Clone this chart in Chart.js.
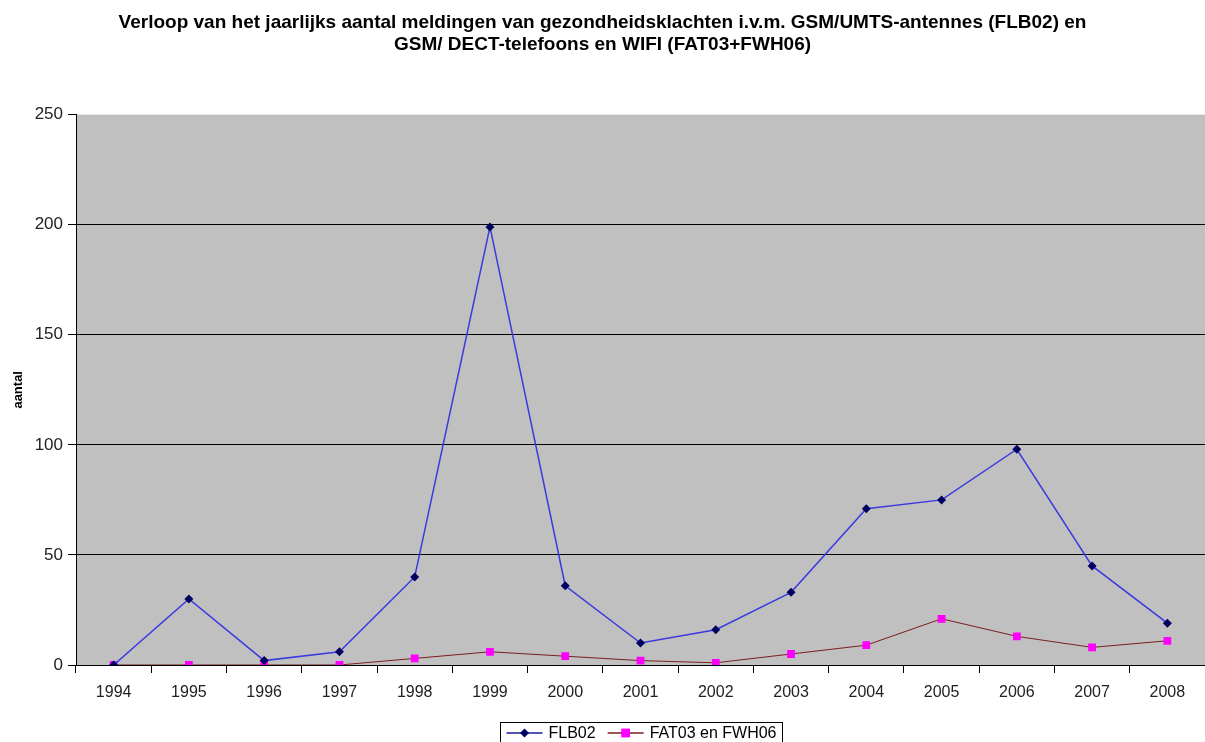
<!DOCTYPE html>
<html>
<head>
<meta charset="utf-8">
<script src="https://cdn.jsdelivr.net/npm/chart.js@4.4.0/dist/chart.umd.min.js"></script>
<style>
  html, body { margin: 0; padding: 0; background: #fff; }
  #wrap { width: 1205px; height: 742px; }
</style>
</head>
<body>
<div id="wrap"><canvas id="chart" width="1205" height="742"></canvas></div>
<script>
// jaren en aantallen
const jaren = ['1994', '1995', '1996', '1997', '1998', '1999', '2000', '2001', '2002', '2003', '2004', '2005', '2006', '2007', '2008'];
const flb02 = [0, 30, 2, 6, 40, 199, 36, 10, 16, 33, 71, 75, 98, 45, 19];
const fat03Fwh06 = [0, 0, 0, 0, 3, 6, 4, 2, 1, 5, 9, 21, 13, 8, 11];
const yTicks = [0, 50, 100, 150, 200, 250];

const titel = [
    'Verloop van het jaarlijks aantal meldingen van gezondheidsklachten i.v.m. GSM/UMTS-antennes (FLB02) en',
    'GSM/ DECT-telefoons en WIFI (FAT03+FWH06)'
];

const FONT = "'Liberation Sans', Arial, sans-serif";

// grijze achtergrond van het plotgebied
const plotBackground = {
    id: 'plotBackground',
    beforeDraw(chart) {
        const { ctx, chartArea: { left, top, right, bottom } } = chart;
        ctx.save();
        ctx.fillStyle = '#c0c0c0';
        ctx.fillRect(left, top, right - left, bottom - top);
        ctx.restore();
    }
};

// legende onderaan, in een kader zoals in Excel (gecentreerd op het plotgebied)
const excelLegend = {
    id: 'excelLegend',
    afterDraw(chart) {
        const { ctx, chartArea } = chart;
        const sets = chart.data.datasets;
        ctx.save();
        ctx.font = '16px ' + FONT;
        const lineLen = 36, gap = 6, itemGap = 12, padX = 6;
        let total = padX * 2;
        const widths = sets.map(ds => ctx.measureText(ds.label).width);
        widths.forEach((w, i) => { total += lineLen + gap + w + (i ? itemGap : 0); });
        const mid = (chartArea.left + chartArea.right) / 2;
        let x = Math.round(mid - total / 2) + 0.5;
        const top = 722.5, h = 30, cy = 733;
        ctx.fillStyle = '#fff';
        ctx.fillRect(x, top, total, h);
        ctx.strokeStyle = '#000';
        ctx.lineWidth = 1;
        ctx.strokeRect(x, top, total, h);
        x += padX;
        sets.forEach((ds, i) => {
            if (i) x += itemGap;
            ctx.strokeStyle = ds.legendLine;
            ctx.lineWidth = 1.5;
            ctx.beginPath();
            ctx.moveTo(x, cy);
            ctx.lineTo(x + lineLen, cy);
            ctx.stroke();
            const mx = x + lineLen / 2;
            ctx.fillStyle = ds.pointBackgroundColor;
            ctx.beginPath();
            if (ds.pointStyle === 'rectRot') {
                const r = ds.pointRadius;
                ctx.moveTo(mx, cy - r); ctx.lineTo(mx + r, cy); ctx.lineTo(mx, cy + r); ctx.lineTo(mx - r, cy);
                ctx.closePath();
            } else {
                const r = ds.pointRadius * 0.8;
                ctx.rect(mx - r, cy - r, r * 2, r * 2);
            }
            ctx.fill();
            x += lineLen + gap;
            ctx.fillStyle = '#000';
            ctx.textBaseline = 'middle';
            ctx.fillText(ds.label, x, cy + 1);
            x += widths[i];
        });
        ctx.restore();
    }
};

const ctx = document.getElementById('chart').getContext('2d');
new Chart(ctx, {
    type: 'line',
    data: {
        labels: jaren,
        datasets: [{
            label: 'FLB02',
            data: flb02,
            borderColor: '#3a3ae0',
            legendLine: '#1a1aa0',
            borderWidth: 1.5,
            pointStyle: 'rectRot',
            pointRadius: 4.5,
            pointBackgroundColor: '#000060',
            pointBorderColor: '#000060',
            pointBorderWidth: 0,
            tension: 0
        }, {
            label: 'FAT03 en FWH06',
            data: fat03Fwh06,
            borderColor: '#7a1e1e',
            legendLine: '#7a1e1e',
            borderWidth: 1,
            pointStyle: 'rect',
            pointRadius: 5.5,
            pointBackgroundColor: '#ff00ff',
            pointBorderColor: '#ff00ff',
            pointBorderWidth: 0,
            tension: 0
        }]
    },
    options: {
        responsive: false,
        animation: false,
        layout: { padding: 0, autoPadding: false },
        plugins: {
            legend: { display: false },
            tooltip: { enabled: false },
            title: {
                display: true,
                text: titel,
                color: '#000',
                font: { family: FONT, size: 19, weight: 'bold', lineHeight: 1.2 },
                padding: { top: 11, bottom: 58 }
            }
        },
        scales: {
            x: {
                offset: true,
                afterFit(scale) { scale.height = 77; },
                grid: {
                    offset: true,
                    drawOnChartArea: false,
                    drawTicks: true,
                    tickLength: 8,
                    tickColor: '#000'
                },
                border: { display: true, color: '#000', width: 1 },
                ticks: {
                    color: '#222',
                    padding: 10,
                    maxRotation: 0,
                    autoSkip: false,
                    font: { family: FONT, size: 16 }
                }
            },
            y: {
                min: 0,
                max: 250,
                afterFit(scale) { scale.width = 76; },
                afterBuildTicks(scale) { scale.ticks = yTicks.map(v => ({ value: v })); },
                grid: {
                    color: c => (c.tick && c.tick.value === 250) ? 'rgba(0,0,0,0)' : '#000',
                    lineWidth: 1,
                    tickLength: 8,
                    tickColor: '#000'
                },
                border: { display: true, color: '#000', width: 1 },
                ticks: {
                    color: '#222',
                    padding: 5,
                    font: { family: FONT, size: 17 }
                },
                title: {
                    display: true,
                    text: 'aantal',
                    color: '#000',
                    font: { family: FONT, size: 13, weight: 'bold' },
                    padding: { top: 11, bottom: 0 }
                }
            }
        }
    },
    plugins: [plotBackground, excelLegend]
});
</script>
</body>
</html>
